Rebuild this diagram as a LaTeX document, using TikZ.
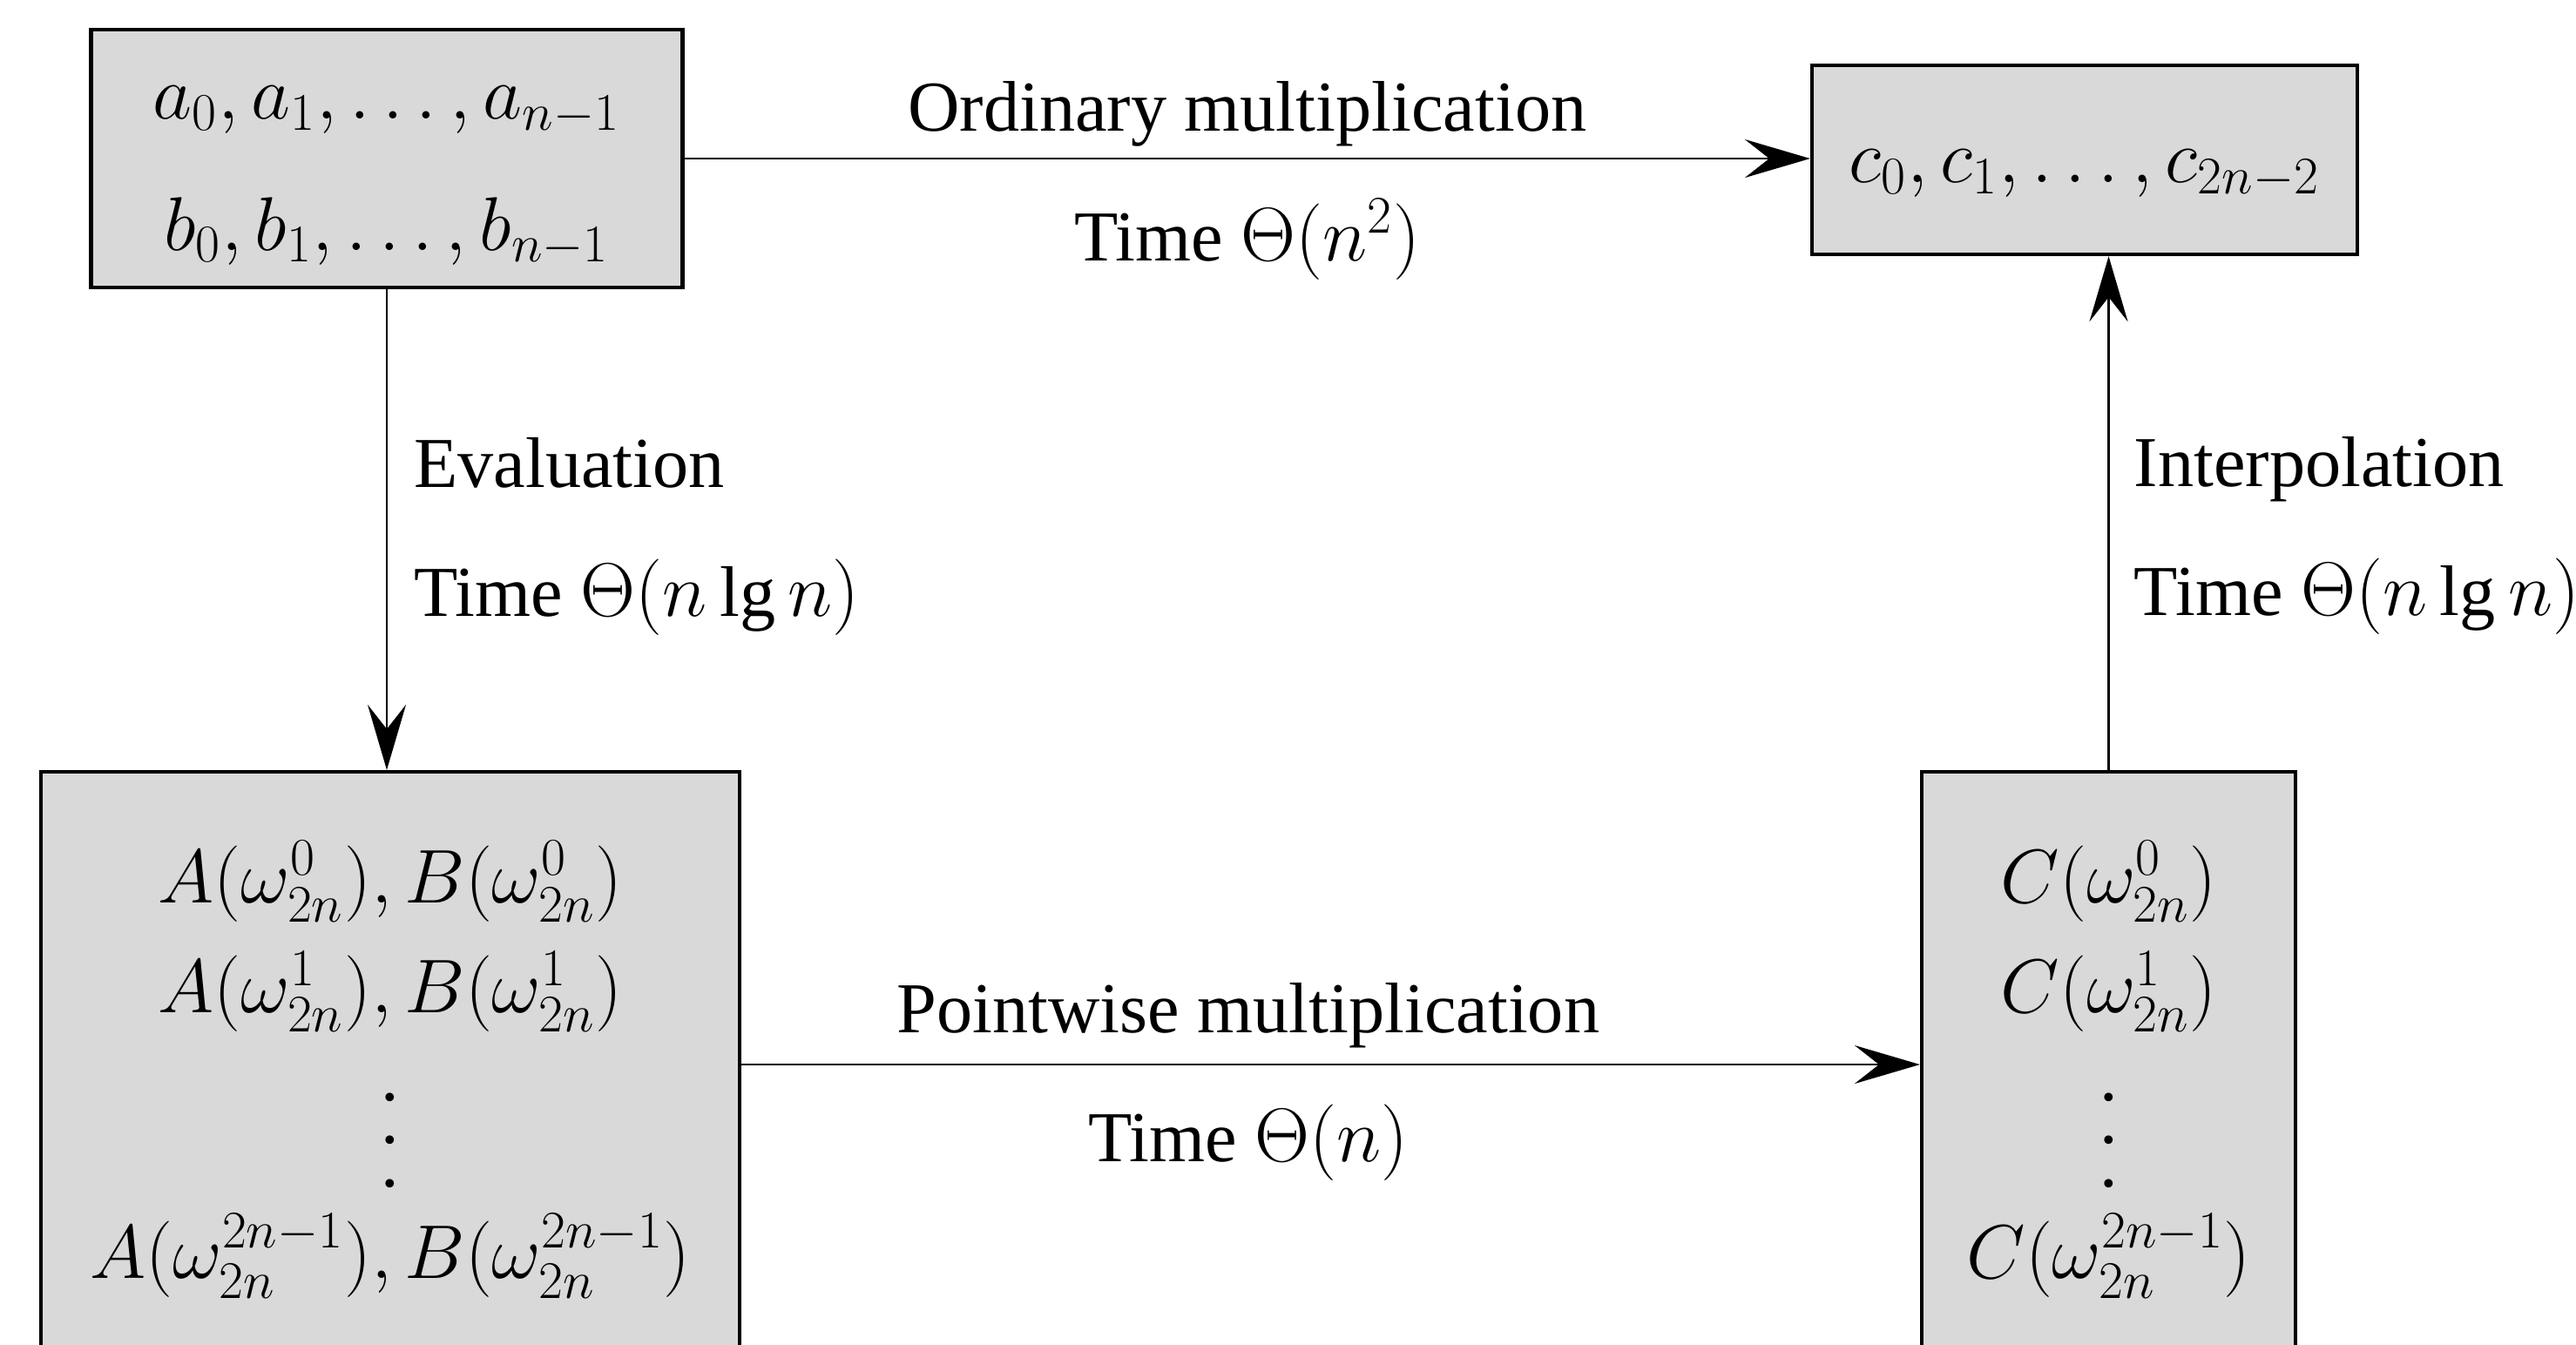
\documentclass[tikz,border=0pt]{standalone}
\usepackage{amsmath}
\usepackage{fontspec}
\setmainfont{Liberation Serif}
\usepackage{xcolor}
\usetikzlibrary{arrows.meta,positioning}

\definecolor{boxgray}{RGB}{217,217,217}
\newcommand{\tallvdots}{\vbox{\baselineskip=14pt \lineskiplimit=0pt \kern4pt\hbox{.}\hbox{.}\hbox{.}}}
\tikzset{
  box/.style={draw, line width=1.2pt, fill=boxgray, align=center, inner sep=0pt},
  arr/.style={line width=0.8pt, -{Stealth[length=7.5mm,width=4.4mm,inset=2.8mm]}},
  lbl/.style={inner sep=0pt}
}

\begin{document}
\begin{tikzpicture}[font=\fontsize{23.4}{30}\selectfont]
  \useasboundingbox (0,0) rectangle (29.57,-15.43);
  % the four boxes
  \node[box, minimum width=6.79cm, minimum height=2.96cm] (coef) at (4.44,-1.82)
    {\rule{0pt}{22pt}$a_0, a_1, \ldots, a_{n-1}$\\[13pt] $b_0, b_1, \ldots, b_{n-1}$};
  \node[box, minimum width=6.26cm, minimum height=2.17cm] (prod) at (23.93,-1.835)
    {\rule{0pt}{20pt}$c_0, c_1, \ldots, c_{2n-2}$};
  \node[box, minimum width=8.02cm, minimum height=6.84cm] (pts) at (4.48,-12.28)
    {$A(\omega_{2n}^{0}), B(\omega_{2n}^{0})$\\[6pt]
     $A(\omega_{2n}^{1}), B(\omega_{2n}^{1})$\\[15pt]
     \tallvdots\\[0pt]
     $A(\omega_{2n}^{2n-1}), B(\omega_{2n}^{2n-1})$};
  \node[box, minimum width=4.29cm, minimum height=6.84cm] (cpts) at (24.205,-12.28)
    {$C(\omega_{2n}^{0})$\\[6pt]
     $C(\omega_{2n}^{1})$\\[15pt]
     \tallvdots\\[0pt]
     $C(\omega_{2n}^{2n-1})$};
  % arrows
  \draw[arr] (coef.east) -- (coef.east -| prod.west)
    node[lbl, midway, above=0.12cm] {Ordinary multiplication}
    node[lbl, midway, below=0.45cm] {Time $\Theta(n^2)$};
  \draw[arr] (coef.south) -- (coef.south |- pts.north)
    node[lbl, pos=0.514, right=0.3cm, align=left] {Evaluation\\[12pt] Time $\Theta(n \lg n)$};
  \draw[arr] ([yshift=0.06cm]pts.east) -- ([yshift=0.06cm]cpts.west)
    node[lbl, pos=0.43, above=0.18cm] {Pointwise multiplication}
    node[lbl, pos=0.43, below=0.45cm] {Time $\Theta(n)$};
  \draw[arr] (cpts.north) -- (cpts.north |- prod.south)
    node[lbl, pos=0.456, right=0.28cm, align=left] {Interpolation\\[12pt] Time $\Theta(n \lg n)$};
\end{tikzpicture}
\end{document}
